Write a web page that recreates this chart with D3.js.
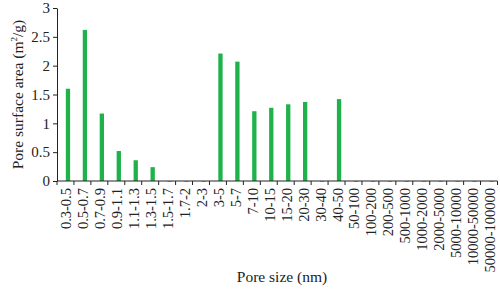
<!DOCTYPE html>
<html>
<head>
<meta charset="utf-8">
<script src="https://cdn.jsdelivr.net/npm/d3@7"></script>
<style>
  body { margin: 0; background: #fff; }
  svg text { font-family: "Liberation Serif", "DejaVu Serif", serif; fill: #222; }
</style>
</head>
<body>
<svg id="chart" width="500" height="289"></svg>
<script>
const poreSizes = ['0.3-0.5', '0.5-0.7', '0.7-0.9', '0.9-1.1', '1.1-1.3', '1.3-1.5', '1.5-1.7', '1.7-2',
  '2-3', '3-5', '5-7', '7-10', '10-15', '15-20', '20-30', '30-40', '40-50', '50-100', '100-200',
  '200-500', '500-1000', '1000-2000', '2000-5000', '5000-10000', '10000-50000', '50000-100000'];
const surfaceArea = [1.60, 2.62, 1.17, 0.52, 0.36, 0.24, 0, 0,
  0, 2.21, 2.07, 1.21, 1.27, 1.33, 1.37, 0, 1.42, 0, 0,
  0, 0, 0, 0, 0, 0, 0];
const yTicks = [0, 0.5, 1, 1.5, 2, 2.5, 3];

const svg = d3.select('#chart');
const mLeft = 57, mRight = 497.5, mTop = 8, mBottom = 181;

const x = d3.scaleBand().domain(poreSizes).range([mLeft, mRight]);
const y = d3.scaleLinear().domain([0, 3]).range([mBottom, mTop]);

// bars (sit a bit right of the category centre, like the original)
const barW = 4.3;
svg.append('g').selectAll('rect').data(poreSizes).enter().append('rect')
  .attr('x', d => x(d) + x.bandwidth() / 2 + 2.5 - barW / 2)
  .attr('y', (d, i) => y(surfaceArea[i]))
  .attr('width', barW)
  .attr('height', (d, i) => Math.max(0.6, mBottom - y(surfaceArea[i])))
  .attr('fill', '#1fb24b');

// y axis
const yAxis = svg.append('g').attr('transform', `translate(${mLeft},0)`)
  .call(d3.axisLeft(y).tickValues(yTicks).tickSize(4).tickSizeOuter(0).tickPadding(3).tickFormat(d3.format('')));
yAxis.selectAll('text').attr('font-size', 15).style('font-family', null);
yAxis.select('.domain').attr('stroke', '#222');
yAxis.selectAll('line').attr('stroke', '#222');

// x axis, ticks between categories
const xAxis = svg.append('g').attr('transform', `translate(0,${mBottom})`);
xAxis.append('line').attr('x1', mLeft).attr('x2', mRight).attr('stroke', '#222');
xAxis.selectAll('.tk').data(d3.range(poreSizes.length + 1)).enter().append('line')
  .attr('x1', i => mLeft + i * x.step()).attr('x2', i => mLeft + i * x.step())
  .attr('y1', 0).attr('y2', 4).attr('stroke', '#222');
xAxis.selectAll('.lbl').data(poreSizes).enter().append('text')
  .attr('transform', d => `translate(${x(d) + x.bandwidth() / 2 + 6},7) rotate(-90)`)
  .attr('text-anchor', 'end')
  .attr('font-size', 14.5)
  .text(d => d);

// axis titles
svg.append('text')
  .attr('transform', `translate(23,${(mTop + mBottom) / 2}) rotate(-90)`)
  .attr('text-anchor', 'middle')
  .attr('font-size', 15.5)
  .html('Pore surface area (m<tspan dy="-6" font-size="9">2</tspan><tspan dy="6">/g)</tspan>');
svg.append('text')
  .attr('x', 282).attr('y', 282)
  .attr('text-anchor', 'middle')
  .attr('font-size', 15.5)
  .text('Pore size (nm)');
</script>
</body>
</html>
